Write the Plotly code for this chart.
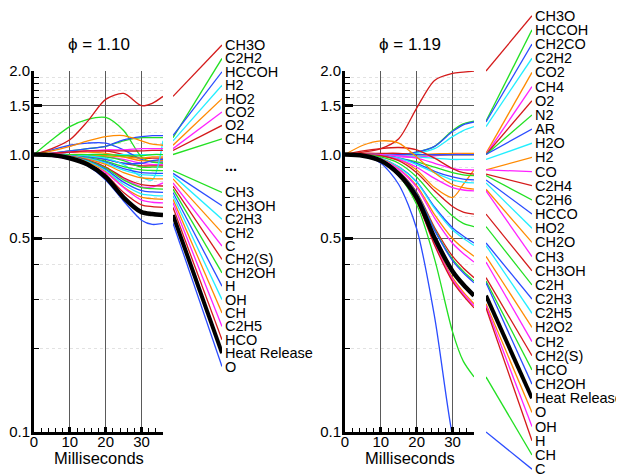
import math
import plotly.graph_objects as go

# The page puts an 8px body margin round the figure; positions below are page pixels.
OFF = 8
W, H = 624 - OFF, 474 - OFF

# ---------------- data ----------------
T_MS = [0, 5, 10, 15, 20, 25, 30, 33, 36]

# phi = 1.10 (left panel), labelled species
A_CH3O  = [1.00, 1.05, 1.13, 1.32, 1.58, 1.66, 1.50, 1.53, 1.62]
A_C2H2  = [1.00, 1.01, 1.03, 1.05, 1.07, 1.12, 1.15, 1.15, 1.15]
A_HCCOH = [1.00, 1.01, 1.03, 1.05, 1.07, 1.13, 1.16, 1.17, 1.17]
A_H2    = [1.00, 1.00, 1.00, 0.99, 0.97, 0.92, 0.83, 0.81, 1.12]
A_HO2   = [1.00, 1.03, 1.07, 1.12, 1.16, 1.17, 1.12, 1.09, 1.08]
A_CO2   = [1.00, 1.01, 1.02, 1.03, 1.04, 1.04, 1.05, 1.05, 1.05]
A_O2    = [1.00, 1.01, 1.02, 1.03, 1.03, 1.03, 1.03, 1.035, 1.035]
A_CH4   = [1.00, 1.00, 1.00, 1.00, 1.00, 0.99, 0.99, 1.00, 1.00]
A_CH3   = [1.00, 1.00, 0.99, 0.975, 0.946, 0.905, 0.88, 0.876, 0.875]
A_CH3OH = [1.00, 1.00, 0.99, 0.971, 0.938, 0.89, 0.861, 0.857, 0.855]
A_C2H3  = [1.00, 1.00, 0.989, 0.968, 0.931, 0.878, 0.846, 0.842, 0.84]
A_CH2   = [1.00, 1.00, 0.987, 0.963, 0.921, 0.861, 0.824, 0.819, 0.817]
A_C     = [1.00, 1.00, 0.985, 0.955, 0.90, 0.82, 0.765, 0.765, 0.79]
A_CH2S  = [1.00, 1.00, 0.984, 0.954, 0.901, 0.825, 0.779, 0.772, 0.77]
A_CH2OH = [1.00, 1.00, 0.983, 0.95, 0.893, 0.81, 0.76, 0.753, 0.75]
A_H     = [1.00, 0.997, 0.981, 0.946, 0.884, 0.795, 0.741, 0.733, 0.73]
A_OH    = [1.00, 0.997, 0.98, 0.942, 0.875, 0.78, 0.722, 0.713, 0.71]
A_CH    = [1.00, 0.997, 0.978, 0.938, 0.867, 0.764, 0.702, 0.693, 0.69]
A_C2H5  = [1.00, 0.985, 0.96, 0.92, 0.86, 0.76, 0.685, 0.673, 0.67]
A_HCO   = [1.00, 0.996, 0.975, 0.929, 0.847, 0.73, 0.659, 0.649, 0.645]
A_HR    = [1.00, 0.995, 0.97, 0.92, 0.83, 0.70, 0.62, 0.61, 0.605]
A_O     = [1.00, 0.995, 0.97, 0.91, 0.81, 0.68, 0.58, 0.56, 0.565]
# phi = 1.10, species hidden behind "..."
A_X1  = [1.00, 1.01, 1.02, 1.03, 1.03, 1.00, 0.97, 0.97, 0.97]
A_X2  = [1.00, 1.00, 1.00, 1.00, 1.00, 1.00, 1.00, 1.00, 1.00]
A_X3  = [1.00, 1.04, 1.08, 1.10, 1.10, 1.04, 0.96, 0.94, 0.94]
A_X4  = [1.00, 1.13, 1.26, 1.34, 1.36, 1.22, 0.98, 0.94, 0.93]
A_X5  = [1.00, 1.01, 1.02, 1.02, 1.01, 0.98, 0.95, 0.95, 0.95]
A_X6  = [1.00, 1.00, 1.00, 0.99, 0.98, 0.96, 0.93, 0.92, 0.92]
A_X7  = [1.00, 1.00, 0.99, 0.98, 0.96, 0.93, 0.91, 0.91, 0.91]
A_X8  = [1.00, 1.00, 1.00, 0.99, 0.98, 0.95, 0.90, 0.90, 0.90]
A_X9  = [1.00, 1.00, 0.99, 0.98, 0.96, 0.93, 0.93, 0.95, 0.96]
A_X10 = [1.00, 1.00, 1.00, 1.00, 0.99, 0.98, 0.97, 0.98, 0.98]

# phi = 1.19 (right panel)
B_CH3O  = [1.00, 1.02, 1.05, 1.14, 1.47, 1.85, 1.96, 1.98, 2.00]
B_HCCOH = [1.00, 1.00, 1.00, 1.00, 1.02, 1.07, 1.22, 1.29, 1.32]
B_CH2CO = [1.00, 1.00, 1.00, 1.00, 1.02, 1.07, 1.21, 1.28, 1.31]
B_C2H2  = [1.00, 1.00, 1.00, 1.00, 1.01, 1.05, 1.16, 1.22, 1.26]
B_CO2   = [1.00, 1.00, 1.00, 1.00, 1.00, 1.005, 1.01, 1.01, 1.01]
B_CH4   = [1.00, 1.00, 0.99, 0.98, 0.98, 0.99, 1.00, 1.00, 1.00]
B_O2    = [1.00, 1.01, 1.01, 1.01, 1.00, 1.00, 1.00, 1.00, 1.00]
B_N2    = [1.00, 1.00, 1.00, 1.00, 1.00, 1.00, 1.00, 1.00, 1.00]
B_AR    = [1.00, 1.00, 1.00, 1.00, 1.00, 1.00, 1.00, 1.00, 1.00]
B_H2O   = [1.00, 1.00, 1.00, 0.99, 0.98, 0.97, 0.96, 0.96, 0.96]
B_H2    = [1.00, 1.00, 0.99, 0.96, 0.88, 0.76, 0.70, 0.78, 0.88]
B_CO    = [1.00, 1.00, 1.00, 0.99, 0.97, 0.93, 0.89, 0.88, 0.88]
B_C2H4  = [1.00, 1.03, 1.05, 1.06, 1.04, 0.97, 0.89, 0.86, 0.85]
B_C2H6  = [1.00, 1.00, 0.99, 0.97, 0.94, 0.90, 0.86, 0.845, 0.84]
B_HCCO  = [1.00, 1.00, 0.99, 0.97, 0.93, 0.87, 0.83, 0.815, 0.81]
B_HO2   = [1.00, 1.00, 0.99, 0.97, 0.92, 0.86, 0.81, 0.795, 0.79]
B_CH2O  = [1.00, 1.08, 1.12, 1.10, 0.98, 0.86, 0.78, 0.76, 0.75]
B_CH3   = [1.00, 1.00, 0.99, 0.96, 0.90, 0.82, 0.76, 0.745, 0.74]
B_CH3OH = [1.00, 1.00, 0.99, 0.95, 0.86, 0.74, 0.65, 0.62, 0.61]
B_C2H   = [1.00, 1.00, 0.98, 0.93, 0.83, 0.70, 0.60, 0.565, 0.55]
B_C2H3  = [1.00, 0.993, 0.968, 0.903, 0.799, 0.647, 0.545, 0.509, 0.48]
B_C2H5  = [1.00, 0.993, 0.967, 0.900, 0.794, 0.640, 0.536, 0.499, 0.47]
B_H2O2  = [1.00, 0.992, 0.964, 0.889, 0.773, 0.607, 0.498, 0.459, 0.43]
B_CH2   = [1.00, 0.992, 0.961, 0.884, 0.762, 0.590, 0.479, 0.440, 0.41]
B_CH2S  = [1.00, 0.991, 0.956, 0.868, 0.732, 0.546, 0.430, 0.390, 0.36]
B_HCO   = [1.00, 0.991, 0.955, 0.864, 0.726, 0.537, 0.420, 0.380, 0.35]
B_CH2OH = [1.00, 0.990, 0.954, 0.863, 0.723, 0.533, 0.415, 0.375, 0.345]
B_HR    = [1.00, 0.990, 0.950, 0.850, 0.700, 0.500, 0.380, 0.340, 0.31]
B_O     = [1.00, 0.989, 0.947, 0.842, 0.685, 0.481, 0.360, 0.320, 0.29]
B_OH    = [1.00, 0.989, 0.946, 0.840, 0.682, 0.476, 0.355, 0.315, 0.285]
B_H     = [1.00, 0.989, 0.946, 0.838, 0.678, 0.471, 0.349, 0.310, 0.28]
B_CH    = [1.00, 0.99, 0.95, 0.84, 0.66, 0.42, 0.23, 0.18, 0.158]
B_C     = [1.00, 0.99, 0.93, 0.78, 0.54, 0.26, 0.097, 0.07, 0.055]

Y_TICKS = [0.1, 0.5, 1.0, 1.5, 2.0]
Y_TICK_TEXT = ["0.1", "0.5", "1.0", "1.5", "2.0"]
Y_MINOR = [0.2, 0.3, 0.4, 0.6, 0.7, 0.8, 0.9, 1.1, 1.2, 1.3, 1.4, 1.6, 1.7, 1.8, 1.9]
X_TICKS = [0, 10, 20, 30]
X_MINOR = [2, 4, 6, 8, 12, 14, 16, 18, 22, 24, 26, 28, 32, 34, 36]
TITLES = ["\u03d5 = 1.10", "\u03d5 = 1.19"]
X_TITLE = "Milliseconds"

# ---------------- styles ----------------
RED, GREEN, BLUE, CYAN = "#d41a1a", "#22e022", "#2a4cff", "#22eeff"
ORANGE, MAGENTA, BLACK = "#ff8a00", "#ff22ff", "#000000"
FONT = "Liberation Sans, Arial, Helvetica, sans-serif"

left_series = [
    ("CH3O", A_CH3O, RED, 0), ("C2H2", A_C2H2, GREEN, 1), ("HCCOH", A_HCCOH, BLUE, 2),
    ("H2", A_H2, CYAN, 3), ("HO2", A_HO2, ORANGE, 4), ("CO2", A_CO2, MAGENTA, 5),
    ("O2", A_O2, RED, 6), ("CH4", A_CH4, GREEN, 7),
    ("CH3", A_CH3, GREEN, 11), ("CH3OH", A_CH3OH, BLUE, 12), ("C2H3", A_C2H3, CYAN, 13),
    ("CH2", A_CH2, ORANGE, 14), ("C", A_C, MAGENTA, 15), ("CH2(S)", A_CH2S, RED, 16),
    ("CH2OH", A_CH2OH, GREEN, 17), ("H", A_H, BLUE, 18), ("OH", A_OH, CYAN, 19),
    ("CH", A_CH, ORANGE, 20), ("C2H5", A_C2H5, MAGENTA, 21), ("HCO", A_HCO, RED, 22),
    ("Heat Release", A_HR, BLACK, 23), ("O", A_O, BLUE, 24),
]
left_hidden = [(A_X1, RED), (A_X2, CYAN), (A_X3, BLUE), (A_X4, GREEN), (A_X5, ORANGE),
               (A_X6, MAGENTA), (A_X7, RED), (A_X8, GREEN), (A_X9, BLUE), (A_X10, ORANGE)]
right_series = [
    ("CH3O", B_CH3O, RED), ("HCCOH", B_HCCOH, GREEN), ("CH2CO", B_CH2CO, BLUE),
    ("C2H2", B_C2H2, CYAN), ("CO2", B_CO2, ORANGE), ("CH4", B_CH4, MAGENTA),
    ("O2", B_O2, RED), ("N2", B_N2, GREEN), ("AR", B_AR, BLUE), ("H2O", B_H2O, CYAN),
    ("H2", B_H2, ORANGE), ("CO", B_CO, MAGENTA), ("C2H4", B_C2H4, RED),
    ("C2H6", B_C2H6, GREEN), ("HCCO", B_HCCO, BLUE), ("HO2", B_HO2, CYAN),
    ("CH2O", B_CH2O, ORANGE), ("CH3", B_CH3, MAGENTA), ("CH3OH", B_CH3OH, RED),
    ("C2H", B_C2H, GREEN), ("C2H3", B_C2H3, BLUE), ("C2H5", B_C2H5, CYAN),
    ("H2O2", B_H2O2, ORANGE), ("CH2", B_CH2, MAGENTA), ("CH2(S)", B_CH2S, RED),
    ("HCO", B_HCO, GREEN), ("CH2OH", B_CH2OH, BLUE), ("Heat Release", B_HR, BLACK),
    ("O", B_O, ORANGE), ("OH", B_OH, MAGENTA), ("H", B_H, RED), ("CH", B_CH, GREEN),
    ("C", B_C, BLUE),
]
right_series = [(n, v, c, i) for i, (n, v, c) in enumerate(right_series)]

# ---------------- geometry (page pixels -> figure pixels) ----------------
PLOT_TOP, PLOT_BOT = 71 - OFF, 432 - OFF
Y_MIN, Y_MAX = 0.1, 2.0
DEC = (PLOT_BOT - PLOT_TOP) / (math.log10(Y_MAX) - math.log10(Y_MIN))
CONN_RANGE = [math.log10(Y_MAX) - (H - PLOT_TOP) / DEC, math.log10(Y_MAX) + PLOT_TOP / DEC]


def fx(px):
    return (px - OFF) / W


def fy(py):
    return 1 - (py - OFF) / H


def px_to_val(py):
    return 10 ** (math.log10(Y_MAX) - (py - OFF - PLOT_TOP) / DEC)


panels = [
    dict(series=left_series, hidden=left_hidden, plot=(34, 163), conn=(173, 222),
         slot0=45.0, slot_dy=13.4, ax="", cax="2", dots=9),
    dict(series=right_series, hidden=[], plot=(345, 474), conn=(486, 532),
         slot0=15.7, slot_dy=14.17, ax="3", cax="4", dots=None),
]

fig = go.Figure()
annotations = []
layout = dict(width=W, height=H, margin=dict(l=0, r=0, t=0, b=0, pad=0),
              template="none", paper_bgcolor="white", plot_bgcolor="rgba(0,0,0,0)",
              showlegend=False, font=dict(family=FONT, color="black"))

for pi, p in enumerate(panels):
    xa, ya = "x" + p["ax"], "y" + p["ax"]
    cxa, cya = "x" + p["cax"], "y" + p["cax"]
    x0, x1 = p["plot"]
    c0, c1 = p["conn"]
    layout["xaxis" + p["ax"]] = dict(
        domain=[fx(x0), fx(x1)], range=[0, 36], anchor=ya, automargin=False,
        tickvals=X_TICKS, ticks="inside", ticklen=5, tickwidth=3, tickcolor="black",
        ticklabelstandoff=-6,
        showline=True, linewidth=3, linecolor="black", zeroline=False,
        showgrid=True, gridcolor="#5a5a5a", gridwidth=1,
        minor=dict(tickvals=X_MINOR, ticks="inside", ticklen=4, tickwidth=1,
                   tickcolor="black", showgrid=False),
        tickfont=dict(size=15, family=FONT), fixedrange=True)
    layout["yaxis" + p["ax"]] = dict(
        type="log", domain=[1 - PLOT_BOT / H, 1 - PLOT_TOP / H],
        range=[math.log10(Y_MIN), math.log10(Y_MAX)], anchor=xa, automargin=False,
        tickvals=Y_TICKS, ticktext=Y_TICK_TEXT, ticks="inside", ticklen=8, tickwidth=3,
        tickcolor="black", showline=True, linewidth=3, linecolor="black", zeroline=False,
        ticklabelstandoff=-2,
        showgrid=True, gridcolor="#5a5a5a", gridwidth=1,
        minor=dict(tickvals=Y_MINOR, ticks="inside", ticklen=5, tickwidth=1,
                   tickcolor="black", showgrid=True, gridcolor="#e2e2e2",
                   griddash="dot", gridwidth=1),
        tickfont=dict(size=15, family=FONT), fixedrange=True)
    layout["xaxis" + p["cax"]] = dict(domain=[fx(c0), fx(c1)], range=[0, 1], anchor=cya,
                                      visible=False, fixedrange=True)
    layout["yaxis" + p["cax"]] = dict(domain=[0, 1], type="log", range=CONN_RANGE,
                                      anchor=cxa, visible=False, fixedrange=True)

    for vals, col in p["hidden"]:
        fig.add_trace(go.Scatter(x=T_MS, y=vals, mode="lines", xaxis=xa, yaxis=ya,
                                 line=dict(color=col, width=1.3, shape="spline", smoothing=0.8),
                                 hoverinfo="skip"))
    ordered = [s for s in p["series"] if s[0] != "Heat Release"] + \
              [s for s in p["series"] if s[0] == "Heat Release"]
    for name, vals, col, slot in ordered:
        hr = name == "Heat Release"
        lw = 4.5 if hr else 1.3
        fig.add_trace(go.Scatter(x=T_MS, y=vals, mode="lines", xaxis=xa, yaxis=ya, name=name,
                                 line=dict(color=col, width=lw, shape="spline", smoothing=0.8),
                                 hoverinfo="skip"))
        py = p["slot0"] + p["slot_dy"] * slot
        start = min(max(vals[-1], Y_MIN), Y_MAX)
        fig.add_trace(go.Scatter(x=[0, 1], y=[start, px_to_val(py)], mode="lines",
                                 xaxis=cxa, yaxis=cya,
                                 line=dict(color=col, width=4 if hr else 1.3),
                                 hoverinfo="skip"))
        annotations.append(dict(text=name, xref="paper", yref="paper", x=fx(c1 + 1),
                                y=fy(py), xanchor="left", yanchor="middle",
                                showarrow=False, font=dict(size=14.5, family=FONT, color="black")))
    if p["dots"] is not None:
        py = p["slot0"] + p["slot_dy"] * p["dots"]
        annotations.append(dict(text="<b>...</b>", xref="paper", yref="paper", x=fx(c1 + 1),
                                y=fy(py), xanchor="left", yanchor="middle",
                                showarrow=False, font=dict(size=14.5, family=FONT, color="black")))
    annotations.append(dict(text=TITLES[pi], xref="paper", yref="paper", x=fx((x0 + x1) / 2),
                            y=fy(44), xanchor="center", yanchor="middle", showarrow=False,
                            font=dict(size=17, family=FONT, color="black")))
    annotations.append(dict(text=X_TITLE, xref="paper", yref="paper", x=fx((x0 + x1) / 2),
                            y=fy(457.5), xanchor="center", yanchor="middle", showarrow=False,
                            font=dict(size=16.5, family=FONT, color="black")))

layout["annotations"] = annotations
fig.update_layout(**layout)
fig.write_html("out.html")
